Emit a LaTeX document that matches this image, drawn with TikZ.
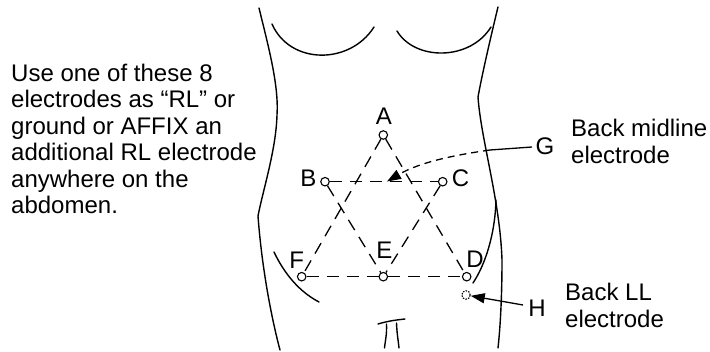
\documentclass[tikz,border=0pt]{standalone}
\usepackage{fontspec}
\setmainfont{Liberation Sans}
\usetikzlibrary{arrows.meta}
\begin{document}
\begin{tikzpicture}[x=1pt,y=-1pt,
  outline/.style={line width=1.4pt, line cap=round},
  link/.style={line width=1.3pt, dash pattern=on 12pt off 8pt},
  electrode/.style={circle, draw, line width=1.1pt, fill=white, inner sep=0pt, minimum size=8.5pt},
  ghost/.style={electrode, dash pattern=on 1.5pt off 1.2pt},
  tag/.style={inner sep=0pt, font=\fontsize{24}{26.5}\selectfont},
  note/.style={inner sep=0pt, align=left, font=\fontsize{24}{26.5}\selectfont},
  pointer/.style={line width=1.3pt, -{Triangle[length=14pt,width=10pt]}},
]
\useasboundingbox (0,0) rectangle (710,352);

% torso outline
\draw[outline] (259,8) .. controls (268,45) and (279,85) .. (277,115)
  .. controls (276,150) and (263,190) .. (258,216)
  .. controls (262,270) and (272,320) .. (280,350);
\draw[outline] (498,7) .. controls (490,40) and (482,75) .. (478,97)
  .. controls (481,140) and (500,200) .. (502,260)
  .. controls (502,300) and (500,330) .. (498,348);
% breasts
\draw[outline] (272,24) .. controls (290,65) and (350,65) .. (374,27);
\draw[outline] (397,31) .. controls (415,61) and (470,61) .. (491,27);
% hip lines
\draw[outline] (274,252) .. controls (285,275) and (300,292) .. (319,302);
\draw[outline] (473,283) .. controls (485,265) and (495,235) .. (496,200);
% groin mark
\draw[outline] (378,324) .. controls (388,321) and (396,320) .. (405,319);
\draw[outline] (386.5,324) .. controls (387,335) and (385,342) .. (384.5,348);
\draw[outline] (396.5,323) .. controls (397,335) and (398.5,342) .. (399,348);

% electrodes
\node[electrode] (a) at (383.3,135) {};
\node[electrode] (b) at (325,181.7) {};
\node[electrode] (c) at (442.7,181.7) {};
\node[electrode] (f) at (301.7,276.7) {};
\node[electrode] (e) at (383.3,276.7) {};
\node[electrode] (d) at (466.7,276.7) {};
\node[ghost] (h) at (466,295) {};

% electrode letters
\node[tag] (la) at (384,116.7) {A};
\node[tag] (lb) at (308.3,178) {B};
\node[tag] (lc) at (460.5,178) {C};
\node[tag] (lf) at (296.7,260) {F};
\node[tag] (le) at (384.3,250.5) {E};
\node[tag] (ld) at (475,259.7) {D};
\node[tag] (lg) at (545,146.7) {G};
\node[tag] (lh) at (537,308.3) {H};

% the two triangles
\draw[link] (a) -- (f);
\draw[link] (a) -- (d);
\draw[link] (f) -- (e);
\draw[link] (e) -- (d);
\draw[link] (b) -- (c);
\draw[link] (b) -- (e);
\draw[link] (c) -- (e);

% pointers to the back electrodes
\coordinate (gstart) at (532,147);
\coordinate (gbend) at (490,150);
\coordinate (gtip) at (387,181.5);
\draw[line width=1.3pt] (gstart) -- (gbend);
\draw[pointer, dash pattern=on 7pt off 5pt] (gbend) .. controls (455,155) and (420,162) .. (gtip);
\coordinate (hstart) at (523,305);
\draw[pointer] (hstart) -- (h);

% notes (anchored at the baseline of their last line)
\node[note, anchor=base west] (side) at (11,214) {Use one of these 8\\electrodes as “RL” or\\ground or AFFIX an\\additional RL electrode\\anywhere on the\\abdomen.};
\node[note, anchor=base west] (mid) at (571,163.3) {Back midline\\electrode};
\node[note, anchor=base west] (ll) at (565,327.5) {Back LL\\electrode};
\end{tikzpicture}
\end{document}
